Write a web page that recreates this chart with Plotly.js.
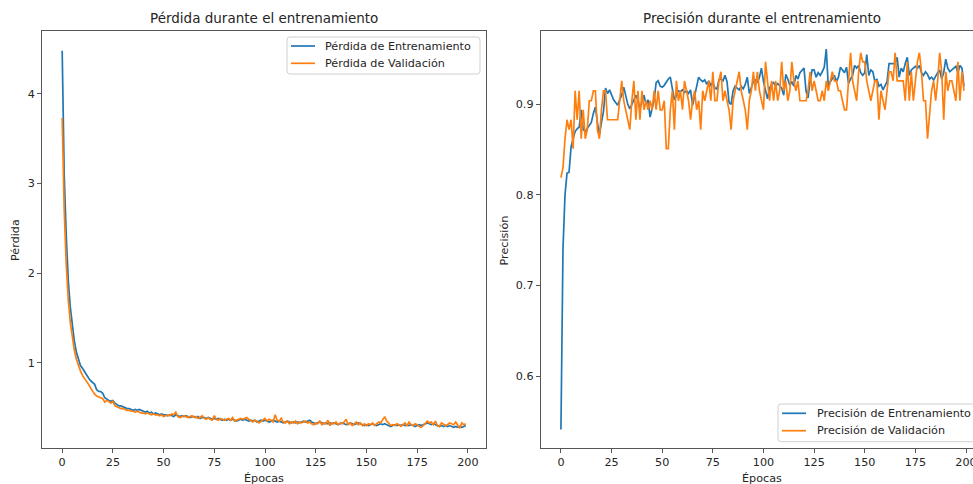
<!DOCTYPE html>
<html>
<head>
<meta charset="utf-8">
<script src="https://cdn.plot.ly/plotly-3.0.1.min.js"></script>
<style>
html,body{margin:0;padding:0;background:#fff;}
#chart{width:973px;height:484px;}
</style>
</head>
<body>
<div id="chart"></div>
<script>
// ---- Data ----
const lossTitle = "Pérdida durante el entrenamiento";
const accTitle = "Precisión durante el entrenamiento";
const xLabel = "Épocas";
const lossLabel = "Pérdida";
const accLabel = "Precisión";
const lossTrainName = "Pérdida de Entrenamiento";
const lossValName = "Pérdida de Validación";
const accTrainName = "Precisión de Entrenamiento";
const accValName = "Precisión de Validación";
const xTicks = [0, 25, 50, 75, 100, 125, 150, 175, 200];
const lossTicks = [1, 2, 3, 4];
const accTicks = [0.6, 0.7, 0.8, 0.9];

const lossTrain = [
4.48,3.10,2.42,1.92,1.62,1.40,1.24,1.12,1.03,0.97,
0.94,0.90,0.86,0.83,0.80,0.78,0.76,0.70,0.68,0.68,
0.66,0.61,0.59,0.58,0.57,0.58,0.55,0.53,0.52,0.52,
0.51,0.50,0.49,0.49,0.48,0.47,0.48,0.47,0.48,0.47,
0.46,0.45,0.46,0.44,0.45,0.43,0.44,0.43,0.42,0.43,
0.42,0.42,0.41,0.42,0.41,0.40,0.42,0.41,0.40,0.41,
0.40,0.41,0.40,0.39,0.40,0.40,0.39,0.40,0.38,0.39,
0.39,0.38,0.39,0.38,0.37,0.38,0.37,0.38,0.37,0.36,
0.37,0.36,0.37,0.36,0.37,0.36,0.35,0.36,0.37,0.36,
0.37,0.36,0.35,0.36,0.35,0.36,0.34,0.35,0.36,0.35,
0.36,0.35,0.34,0.35,0.36,0.35,0.34,0.35,0.34,0.33,
0.34,0.35,0.34,0.33,0.34,0.33,0.34,0.33,0.34,0.35,
0.34,0.35,0.36,0.34,0.33,0.32,0.33,0.34,0.33,0.32,
0.33,0.32,0.33,0.32,0.33,0.32,0.31,0.32,0.33,0.32,
0.31,0.32,0.33,0.32,0.31,0.32,0.33,0.32,0.31,0.30,
0.31,0.30,0.31,0.32,0.31,0.30,0.31,0.32,0.31,0.32,
0.31,0.30,0.29,0.30,0.31,0.30,0.31,0.30,0.31,0.30,
0.31,0.30,0.31,0.30,0.29,0.30,0.31,0.30,0.31,0.32,
0.33,0.32,0.31,0.32,0.31,0.30,0.29,0.30,0.29,0.30,
0.29,0.30,0.29,0.28,0.29,0.28,0.29,0.28,0.29,0.30
];
const lossVal = [
3.73,2.70,2.10,1.70,1.45,1.28,1.14,1.04,0.96,0.91,
0.86,0.83,0.80,0.76,0.72,0.68,0.65,0.63,0.62,0.61,
0.60,0.56,0.58,0.57,0.55,0.57,0.52,0.51,0.50,0.49,
0.49,0.48,0.47,0.47,0.46,0.46,0.45,0.46,0.45,0.44,
0.44,0.43,0.44,0.43,0.42,0.43,0.42,0.42,0.41,0.42,
0.40,0.41,0.42,0.41,0.43,0.42,0.45,0.40,0.39,0.40,
0.41,0.40,0.39,0.40,0.41,0.39,0.40,0.38,0.39,0.41,
0.38,0.37,0.39,0.37,0.36,0.41,0.37,0.36,0.38,0.37,
0.36,0.37,0.38,0.36,0.39,0.35,0.36,0.37,0.38,0.37,
0.38,0.39,0.37,0.35,0.34,0.36,0.35,0.33,0.35,0.37,
0.38,0.35,0.37,0.36,0.34,0.42,0.36,0.35,0.38,0.34,
0.33,0.35,0.32,0.34,0.33,0.35,0.32,0.34,0.33,0.34,
0.35,0.33,0.34,0.32,0.31,0.33,0.32,0.35,0.31,0.33,
0.32,0.36,0.30,0.33,0.32,0.34,0.31,0.33,0.32,0.34,
0.37,0.31,0.33,0.30,0.32,0.34,0.31,0.33,0.30,0.32,
0.30,0.32,0.31,0.33,0.30,0.32,0.34,0.33,0.36,0.40,
0.35,0.32,0.30,0.31,0.30,0.32,0.31,0.29,0.31,0.33,
0.30,0.34,0.31,0.30,0.32,0.31,0.29,0.28,0.30,0.32,
0.35,0.33,0.34,0.31,0.35,0.30,0.29,0.33,0.31,0.30,
0.31,0.33,0.32,0.31,0.34,0.30,0.27,0.33,0.31,0.32
];
const accTrain = [
0.541,0.740,0.800,0.824,0.825,0.853,0.862,0.870,0.873,0.875,
0.894,0.872,0.870,0.873,0.876,0.880,0.890,0.897,0.880,0.866,
0.880,0.892,0.918,0.912,0.916,0.910,0.905,0.902,0.899,0.905,
0.910,0.919,0.910,0.900,0.895,0.900,0.905,0.910,0.905,0.895,
0.903,0.910,0.900,0.905,0.886,0.895,0.905,0.924,0.926,0.920,
0.919,0.921,0.925,0.928,0.930,0.918,0.905,0.910,0.915,0.914,
0.916,0.913,0.915,0.912,0.916,0.899,0.910,0.920,0.930,0.927,
0.925,0.927,0.922,0.926,0.921,0.924,0.918,0.917,0.927,0.928,
0.926,0.932,0.925,0.902,0.900,0.915,0.920,0.918,0.916,0.920,
0.917,0.922,0.930,0.912,0.920,0.925,0.927,0.924,0.930,0.940,
0.925,0.914,0.906,0.918,0.922,0.924,0.920,0.923,0.921,0.918,
0.910,0.933,0.928,0.921,0.925,0.920,0.932,0.928,0.935,0.938,
0.940,0.915,0.907,0.925,0.938,0.938,0.930,0.935,0.932,0.936,
0.941,0.961,0.920,0.925,0.928,0.932,0.925,0.930,0.941,0.938,
0.935,0.941,0.923,0.928,0.932,0.943,0.940,0.943,0.935,0.932,
0.935,0.955,0.932,0.938,0.936,0.925,0.928,0.920,0.922,0.916,
0.920,0.925,0.945,0.945,0.945,0.945,0.952,0.930,0.940,0.936,
0.945,0.952,0.932,0.938,0.940,0.942,0.940,0.943,0.935,0.932,
0.936,0.933,0.928,0.930,0.927,0.932,0.935,0.938,0.928,0.935,
0.950,0.940,0.936,0.938,0.940,0.942,0.935,0.943,0.940,0.920
];
const accVal = [
0.819,0.830,0.862,0.883,0.872,0.883,0.851,0.915,0.883,0.915,
0.862,0.894,0.862,0.872,0.904,0.904,0.915,0.915,0.872,0.862,
0.894,0.915,0.915,0.883,0.883,0.883,0.883,0.883,0.883,0.904,
0.926,0.904,0.894,0.883,0.872,0.904,0.926,0.883,0.915,0.883,
0.915,0.894,0.904,0.894,0.904,0.894,0.915,0.894,0.915,0.894,
0.894,0.904,0.851,0.851,0.894,0.915,0.872,0.926,0.904,0.915,
0.894,0.926,0.915,0.904,0.883,0.904,0.915,0.894,0.904,0.872,
0.915,0.904,0.915,0.926,0.904,0.936,0.904,0.904,0.926,0.936,
0.904,0.915,0.904,0.894,0.872,0.904,0.915,0.926,0.936,0.915,
0.904,0.894,0.872,0.904,0.915,0.936,0.915,0.936,0.915,0.904,
0.894,0.947,0.926,0.904,0.926,0.904,0.926,0.904,0.915,0.947,
0.915,0.926,0.904,0.915,0.947,0.926,0.915,0.926,0.904,0.904,
0.904,0.904,0.915,0.936,0.915,0.926,0.915,0.904,0.904,0.915,
0.904,0.926,0.915,0.926,0.936,0.926,0.926,0.915,0.915,0.904,
0.894,0.894,0.926,0.957,0.926,0.915,0.904,0.936,0.957,0.947,
0.947,0.926,0.915,0.904,0.915,0.926,0.926,0.883,0.915,0.904,
0.894,0.915,0.936,0.936,0.926,0.957,0.926,0.926,0.926,0.926,
0.904,0.947,0.904,0.936,0.904,0.926,0.947,0.957,0.936,0.904,
0.904,0.862,0.894,0.915,0.926,0.904,0.926,0.957,0.936,0.883,
0.936,0.915,0.926,0.926,0.915,0.904,0.947,0.904,0.936,0.915
];

const epochs = lossTrain.map((_, i) => i);

// ---- Styles ----
const BLUE = '#1f77b4', ORANGE = '#ff7f0e';
const FONT = 'DejaVu Sans, Verdana, sans-serif';
const TXT = '#262626';
const LW = 1.7;
const FS = 11.2;
const W = 973, H = 484;
const px = v => v / W;          // pixel x -> paper
const py = v => 1 - v / H;      // pixel y -> paper

const traces = [
  {x: epochs, y: lossTrain, name: lossTrainName, type: 'scatter', mode: 'lines',
   line: {color: BLUE, width: LW}, xaxis: 'x', yaxis: 'y'},
  {x: epochs, y: lossVal, name: lossValName, type: 'scatter', mode: 'lines',
   line: {color: ORANGE, width: LW}, xaxis: 'x', yaxis: 'y'},
  {x: epochs, y: accTrain, name: accTrainName, type: 'scatter', mode: 'lines',
   line: {color: BLUE, width: LW}, xaxis: 'x2', yaxis: 'y2'},
  {x: epochs, y: accVal, name: accValName, type: 'scatter', mode: 'lines',
   line: {color: ORANGE, width: LW}, xaxis: 'x2', yaxis: 'y2'}
];

const axBase = {
  showgrid: false, zeroline: false, showline: true, linecolor: '#444444', linewidth: 0.9,
  ticks: 'outside', ticklen: 4, tickwidth: 0.9, tickcolor: '#444444',
  tickfont: {family: FONT, size: FS, color: TXT}, fixedrange: true,
  ticklabeloverflow: 'allow'
};
const yDom = [1 - 448 / H, 1 - 31 / H];

// manual legends (matplotlib style box)
function roundRect(x0, y0, x1, y1, r) {
  const rx = r / W, ry = r / H;
  const X0 = px(x0), X1 = px(x1), Y0 = py(y0), Y1 = py(y1);
  return `M${X0 + rx},${Y0} L${X1 - rx},${Y0} Q${X1},${Y0} ${X1},${Y0 - ry} ` +
         `L${X1},${Y1 + ry} Q${X1},${Y1} ${X1 - rx},${Y1} L${X0 + rx},${Y1} ` +
         `Q${X0},${Y1} ${X0},${Y1 + ry} L${X0},${Y0 - ry} Q${X0},${Y0} ${X0 + rx},${Y0} Z`;
}
function legendParts(box, lineX0, lineX1, textX, rows) {
  const shapes = [{
    type: 'path', xref: 'paper', yref: 'paper', layer: 'above',
    path: roundRect(box[0], box[1], box[2], box[3], 3),
    fillcolor: 'rgba(255,255,255,0.8)', line: {color: '#d0d0d0', width: 1}
  }];
  const annots = [];
  rows.forEach(r => {
    shapes.push({type: 'line', xref: 'paper', yref: 'paper', layer: 'above',
      x0: px(lineX0), x1: px(lineX1), y0: py(r.y), y1: py(r.y),
      line: {color: r.color, width: LW}});
    annots.push({text: r.name, xref: 'paper', yref: 'paper', x: px(textX), y: py(r.y),
      xanchor: 'left', yanchor: 'middle', showarrow: false,
      font: {family: FONT, size: FS, color: TXT}});
  });
  return {shapes, annots};
}
const leg1 = legendParts([287, 37, 480, 74], 291, 315, 323,
  [{y: 46, color: BLUE, name: lossTrainName}, {y: 63.3, color: ORANGE, name: lossValName}]);
const leg2 = legendParts([778, 404, 990, 441.7], 782, 806, 815,
  [{y: 413.3, color: BLUE, name: accTrainName}, {y: 430.7, color: ORANGE, name: accValName}]);

const titleFont = {family: FONT, size: 13.5, color: TXT};
const labFont = {family: FONT, size: FS, color: TXT};

const layout = {
  width: W, height: H,
  margin: {l: 0, r: 0, t: 0, b: 0, autoexpand: false},
  paper_bgcolor: '#ffffff', plot_bgcolor: '#ffffff',
  font: {family: FONT, size: FS, color: TXT},
  showlegend: false,
  xaxis: Object.assign({}, axBase, {
    domain: [42 / W, 486 / W], range: [-9.95, 208.95], anchor: 'y', mirror: true,
    tickvals: xTicks, ticktext: xTicks.map(String)
  }),
  yaxis: Object.assign({}, axBase, {
    domain: yDom, range: [0.05, 4.70], anchor: 'x', mirror: true,
    tickvals: lossTicks, ticktext: lossTicks.map(String)
  }),
  xaxis2: Object.assign({}, axBase, {
    domain: [540.7 / W, 1], range: [-10.0, 203.45], anchor: 'y2', mirror: true,
    tickvals: xTicks, ticktext: xTicks.map(String)
  }),
  yaxis2: Object.assign({}, axBase, {
    domain: yDom, range: [0.5205, 0.981], anchor: 'x2', mirror: false,
    tickvals: accTicks, ticktext: accTicks.map(v => v.toFixed(1))
  }),
  shapes: [...leg1.shapes, ...leg2.shapes],
  annotations: [
    {text: lossTitle, xref: 'paper', yref: 'paper', x: px(264), y: py(18.5),
     xanchor: 'center', yanchor: 'middle', showarrow: false, font: titleFont},
    {text: accTitle, xref: 'paper', yref: 'paper', x: px(762), y: py(18.5),
     xanchor: 'center', yanchor: 'middle', showarrow: false, font: titleFont},
    {text: xLabel, xref: 'paper', yref: 'paper', x: px(264), y: py(478.5),
     xanchor: 'center', yanchor: 'middle', showarrow: false, font: labFont},
    {text: xLabel, xref: 'paper', yref: 'paper', x: px(762), y: py(478.5),
     xanchor: 'center', yanchor: 'middle', showarrow: false, font: labFont},
    {text: lossLabel, xref: 'paper', yref: 'paper', x: px(15), y: py(240),
     xanchor: 'center', yanchor: 'middle', textangle: -90, showarrow: false, font: labFont},
    {text: accLabel, xref: 'paper', yref: 'paper', x: px(503.5), y: py(240),
     xanchor: 'center', yanchor: 'middle', textangle: -90, showarrow: false, font: labFont},
    ...leg1.annots, ...leg2.annots
  ]
};

Plotly.newPlot('chart', traces, layout, {displayModeBar: false, staticPlot: true});
</script>
</body>
</html>
